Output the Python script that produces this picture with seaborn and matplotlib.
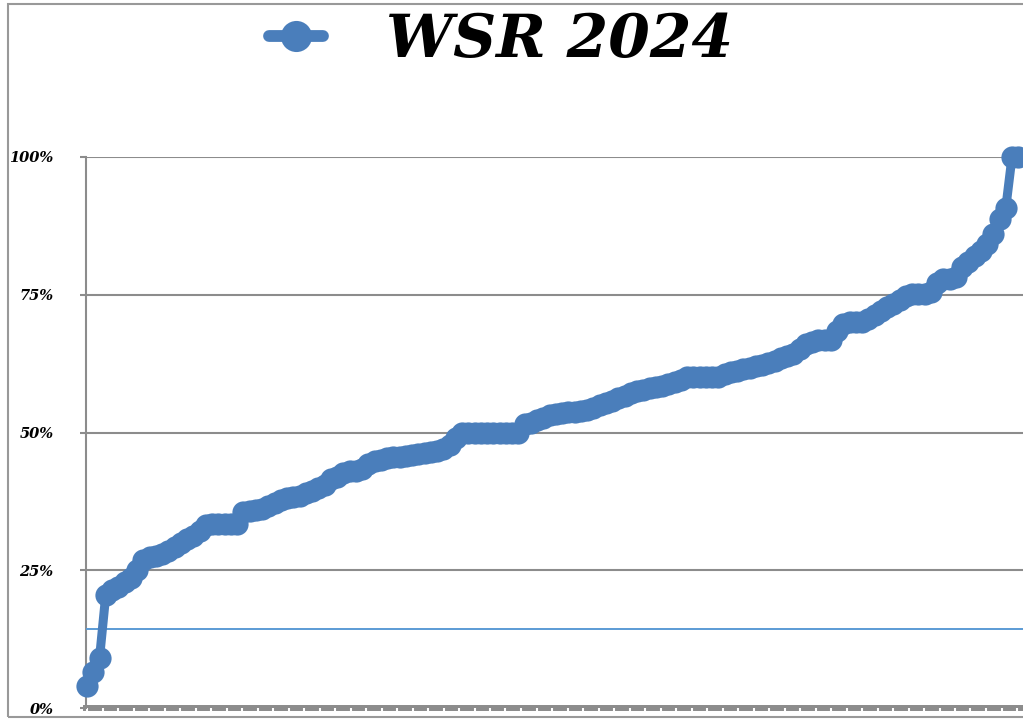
import numpy as np
import pandas as pd
import matplotlib
matplotlib.use("Agg")
import matplotlib.pyplot as plt
import seaborn as sns
from matplotlib.font_manager import FontProperties
from matplotlib.patches import Rectangle

# sorted WSR values
wsr_values = [
    0.040, 0.065, 0.090, 0.205, 0.215, 0.220, 0.228, 0.236, 0.250, 0.268,
    0.274, 0.276, 0.279, 0.285, 0.292, 0.299, 0.306, 0.313, 0.322, 0.333,
    0.334, 0.334, 0.334, 0.334, 0.334, 0.355, 0.357, 0.359, 0.361, 0.366,
    0.372, 0.378, 0.382, 0.383, 0.385, 0.390, 0.394, 0.400, 0.405, 0.415,
    0.420, 0.427, 0.430, 0.431, 0.433, 0.443, 0.448, 0.450, 0.453, 0.455,
    0.455, 0.457, 0.459, 0.461, 0.462, 0.465, 0.467, 0.470, 0.478, 0.490,
    0.500, 0.500, 0.500, 0.500, 0.500, 0.500, 0.500, 0.500, 0.500, 0.500,
    0.515, 0.518, 0.522, 0.526, 0.531, 0.534, 0.536, 0.537, 0.538, 0.539,
    0.541, 0.545, 0.550, 0.553, 0.558, 0.562, 0.566, 0.571, 0.575, 0.578,
    0.580, 0.583, 0.585, 0.588, 0.592, 0.596, 0.600, 0.600, 0.600, 0.600,
    0.600, 0.600, 0.607, 0.610, 0.612, 0.615, 0.617, 0.620, 0.623, 0.626,
    0.630, 0.635, 0.638, 0.643, 0.652, 0.660, 0.665, 0.667, 0.667, 0.668,
    0.685, 0.697, 0.700, 0.700, 0.701, 0.706, 0.713, 0.720, 0.727, 0.733,
    0.740, 0.748, 0.751, 0.751, 0.751, 0.755, 0.772, 0.778, 0.779, 0.782,
    0.800, 0.810, 0.820, 0.829, 0.842, 0.860, 0.887, 0.907, 1.000, 1.000,
]
series_name = "WSR 2024"
threshold = 0.143
y_ticks = [0, 0.25, 0.5, 0.75, 1.0]
y_tick_labels = ["0%", "25%", "50%", "75%", "100%"]

LINE_BLUE = "#4A7EBB"
REF_BLUE = "#5B9BD5"
GRID_GREY = "#8C8C8C"

df = pd.DataFrame({"idx": np.arange(len(wsr_values)), "wsr": wsr_values})

sns.set_style("white")
plt.rcParams["text.color"] = "black"
serif_bi = dict(family="DejaVu Serif", weight="bold", style="italic")

fig = plt.figure(figsize=(10.23, 7.19), dpi=100)
ax = fig.add_axes([86 / 1023, 11 / 719, 937 / 1023, 551 / 719])

sns.lineplot(
    data=df, x="idx", y="wsr", ax=ax, color=LINE_BLUE,
    linewidth=6.5, marker="o", markersize=16, markeredgewidth=0,
    label=series_name, clip_on=False, zorder=5,
)
ax.axhline(threshold, color=REF_BLUE, linewidth=1.4, zorder=3)

ax.set_xlim(-0.16, 149.76)
ax.set_ylim(0, 1)
ax.set_xlabel("")
ax.set_ylabel("")

# y axis
ax.set_yticks(y_ticks)
ax.set_yticklabels(y_tick_labels, fontproperties=FontProperties(size=10.5, **serif_bi),
                   color="black")
ax.tick_params(axis="y", length=4.3, width=1.5, color=GRID_GREY, pad=19, left=True)
ax.yaxis.grid(True, color=GRID_GREY, linewidth=1.5)
ax.set_axisbelow(True)

# crowded x axis with unreadable labels
xt = np.arange(0, 150, 2.48)
ax.set_xticks(xt)
ax.set_xticklabels(["" for _ in xt])
ax.tick_params(axis="x", direction="out", length=4, width=1.5, color="white", bottom=True)

for side in ["top", "right"]:
    ax.spines[side].set_visible(False)
ax.spines["left"].set_color(GRID_GREY)
ax.spines["left"].set_linewidth(1.5)
ax.spines["bottom"].set_color(GRID_GREY)
ax.spines["bottom"].set_linewidth(4.3)
ax.spines["bottom"].set_zorder(0.3)

leg = ax.legend(
    loc="center", bbox_to_anchor=(0.49, 0.944), bbox_transform=fig.transFigure,
    frameon=False, prop=FontProperties(size=43, **serif_bi),
    handlelength=0.9, handletextpad=1.05, markerscale=1.4,
)
for h in leg.legend_handles:
    h.set_linewidth(8.5)
for t in leg.get_texts():
    t.set_color("black")

# outer frame
fig.patches.append(Rectangle((8 / 1023, 2 / 719), 1.2, 713 / 719, transform=fig.transFigure,
                             fill=False, edgecolor="#999999", linewidth=1.5))

fig.savefig("out.png", dpi=100)
